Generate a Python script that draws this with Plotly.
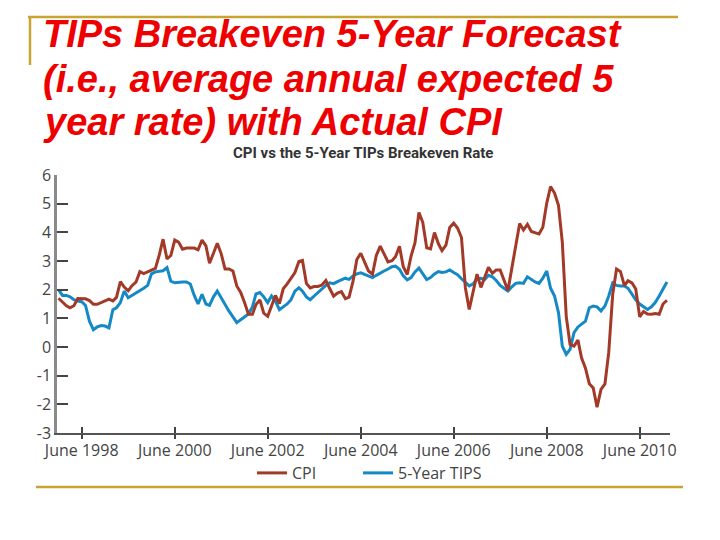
import pandas as pd
import plotly.graph_objects as go

# ---- data (monthly, Dec 1997 .. Jan 2011) ----
months = pd.date_range("1997-12-01", "2011-01-01", freq="MS")

cpi = [1.70,
       1.57, 1.44, 1.37, 1.44, 1.69, 1.68, 1.68, 1.62, 1.49, 1.49, 1.55, 1.61,
       1.67, 1.61, 1.73, 2.28, 2.09, 1.96, 2.14, 2.26, 2.63, 2.56, 2.62, 2.68,
       2.74, 3.22, 3.76, 3.07, 3.19, 3.73, 3.66, 3.41, 3.45, 3.45, 3.45, 3.39,
       3.73, 3.53, 2.92, 3.27, 3.62, 3.25, 2.72, 2.72, 2.65, 2.13, 1.90, 1.55,
       1.14, 1.14, 1.48, 1.64, 1.18, 1.07, 1.46, 1.80, 1.51, 2.03, 2.20, 2.38,
       2.60, 2.98, 3.02, 2.22, 2.06, 2.11, 2.11, 2.16, 2.32, 2.04, 1.77, 1.88,
       1.93, 1.69, 1.74, 2.29, 3.05, 3.27, 2.99, 2.65, 2.54, 3.19, 3.52, 3.26,
       2.97, 3.01, 3.15, 3.51, 2.80, 2.53, 3.17, 3.64, 4.69, 4.35, 3.46, 3.42,
       3.99, 3.60, 3.36, 3.55, 4.17, 4.32, 4.15, 3.82, 2.06, 1.31, 1.97, 2.54,
       2.08, 2.42, 2.78, 2.57, 2.69, 2.69, 2.36, 1.97, 2.76, 3.54, 4.31, 4.08,
       4.28, 4.03, 3.98, 3.94, 4.18, 5.02, 5.60, 5.37, 4.94, 3.66, 1.07, 0.09,
       0.03, 0.24, -0.38, -0.74, -1.28, -1.43, -2.10, -1.48, -1.29, -0.18, 1.84, 2.72,
       2.63, 2.14, 2.31, 2.24, 2.02, 1.05, 1.24, 1.15, 1.14, 1.17, 1.14, 1.50,
       1.63]

tips = [2.00, 1.80, 1.80, 1.75, 1.65, 1.60, 1.58, 1.45, 0.90, 0.60,
        0.70, 0.75, 0.73, 0.67, 1.30, 1.37, 1.55, 1.95, 1.72, 1.80,
        1.86, 1.95, 2.05, 2.15, 2.55, 2.62, 2.65, 2.66, 2.77, 2.30,
        2.24, 2.26, 2.27, 2.27, 2.20, 1.80, 1.50, 1.84, 1.50, 1.45,
        1.75, 1.95, 1.70, 1.45, 1.25, 1.05, 0.85, 0.95, 1.05, 1.15,
        1.40, 1.85, 1.90, 1.75, 1.55, 1.78, 1.60, 1.30, 1.40, 1.50,
        1.65, 1.95, 2.07, 1.95, 1.75, 1.65, 1.78, 1.90, 2.05, 2.15,
        2.24, 2.21, 2.28, 2.35, 2.40, 2.36, 2.48, 2.55, 2.59, 2.53,
        2.48, 2.42, 2.50, 2.59, 2.65, 2.72, 2.80, 2.82, 2.71, 2.48,
        2.34, 2.42, 2.62, 2.75, 2.55, 2.35, 2.42, 2.55, 2.63, 2.60,
        2.62, 2.69, 2.60, 2.52, 2.38, 2.25, 2.13, 2.20, 2.38, 2.40,
        2.36, 2.50, 2.45, 2.32, 2.15, 2.05, 1.95, 2.10, 2.22, 2.24,
        2.22, 2.45, 2.35, 2.27, 2.22, 2.40, 2.65, 2.05, 1.78, 1.20,
        0.03, -0.26, -0.08, 0.50, 0.70, 0.80, 0.90, 1.37, 1.43, 1.40,
        1.26, 1.43, 1.78, 2.24, 2.15, 2.13, 2.13, 2.05, 1.85, 1.65,
        1.50, 1.40, 1.31, 1.40, 1.55, 1.78, 2.05, 2.27]

tick_dates = ["1998-06-01", "2000-06-01", "2002-06-01", "2004-06-01",
              "2006-06-01", "2008-06-01", "2010-06-01"]
tick_labels = ["June 1998", "June 2000", "June 2002", "June 2004",
               "June 2006", "June 2008", "June 2010"]
y_ticks = [-3, -2, -1, 0, 1, 2, 3, 4, 5, 6]
y_tick_labels = ["-3", "-2", "-1", "0", "1", "2", "3", "4", "5", "6"]

x_range = ["1997-11-19", "2011-01-25"]

# ---- styling ----
RED = "#A33A28"
BLUE = "#1589C6"
GOLD = "#C8A430"
TXT = "#444444"
FONT = "Open Sans"

L, R, T, B = 57, 670, 175, 433
W, H = 720, 540


def px(x):
    return (x - L) / (R - L)


def py(y):
    return (B - y) / (B - T)


fig = go.Figure()
fig.add_trace(go.Scatter(x=months, y=tips, name="5-Year TIPS", mode="lines",
                         line=dict(color=BLUE, width=3), legend="legend2"))
fig.add_trace(go.Scatter(x=months, y=cpi, name="CPI", mode="lines",
                         line=dict(color=RED, width=3), legend="legend"))
# invisible trace on overlay axis for the outer half of the crossing ticks
fig.add_trace(go.Scatter(x=[], y=[], xaxis="x2", showlegend=False, hoverinfo="skip"))

fig.update_layout(
    width=W, height=H, autosize=False,
    margin=dict(l=L, r=W - R, t=T, b=H - B, pad=0),
    paper_bgcolor="white", plot_bgcolor="white",
    font=dict(family=FONT, size=16, color=TXT),
    xaxis=dict(type="date", range=x_range, tickmode="array",
               tickvals=tick_dates, ticktext=tick_labels,
               ticks="inside", ticklen=6, tickwidth=1.5, tickcolor="#444",
               showline=True, linecolor="#555", linewidth=2,
               showgrid=False, zeroline=False, ticklabelstandoff=2,
               tickfont=dict(family=FONT, size=16, color=TXT)),
    xaxis2=dict(type="date", range=x_range, overlaying="x", anchor="y",
                side="bottom", tickmode="array", tickvals=tick_dates,
                ticks="outside", ticklen=5, tickwidth=1.5, tickcolor="#444",
                showticklabels=False, showline=False, showgrid=False,
                zeroline=False),
    yaxis=dict(range=[-3, 6], tickmode="array", tickvals=y_ticks,
               ticktext=y_tick_labels,
               ticks="inside", ticklen=11, tickwidth=2, tickcolor="#444",
               showline=True, linecolor="#8a8a8a", linewidth=2.5,
               showgrid=False, zeroline=False, ticklabelstandoff=0,
               tickfont=dict(family=FONT, size=16, color=TXT)),
    legend=dict(orientation="h", x=px(252), xanchor="left",
                y=py(473), yanchor="middle", bgcolor="rgba(0,0,0,0)",
                font=dict(family=FONT, size=16, color=TXT)),
    legend2=dict(orientation="h", x=px(358), xanchor="left",
                 y=py(473), yanchor="middle", bgcolor="rgba(0,0,0,0)",
                 font=dict(family=FONT, size=16, color=TXT)),
    showlegend=True,
)

# title lines
title_lines = ["TIPs Breakeven 5-Year Forecast",
               "(i.e., average annual expected 5",
               "year rate) with Actual CPI"]
title_y = [34, 79, 122]
for line, yy in zip(title_lines, title_y):
    fig.add_annotation(text=line, xref="paper", yref="paper",
                       x=px(42), y=py(yy), xanchor="left", yanchor="middle",
                       showarrow=False, borderpad=0,
                       font=dict(family="Liberation Sans", size=38,
                                 color="#EE0000", weight="bold", style="italic"))

fig.add_annotation(text="CPI vs the 5-Year TIPs Breakeven Rate",
                   xref="paper", yref="paper", x=px(363), y=py(153),
                   xanchor="center", yanchor="middle", showarrow=False,
                   borderpad=0,
                   font=dict(family="Roboto", size=15,
                             color="#333333", weight="bold"))

# decorative gold rules of the slide
fig.add_shape(type="line", xref="paper", yref="paper",
              x0=px(28), x1=px(678), y0=py(17), y1=py(17),
              line=dict(color=GOLD, width=2.5))
fig.add_shape(type="line", xref="paper", yref="paper",
              x0=px(30), x1=px(30), y0=py(17), y1=py(65),
              line=dict(color=GOLD, width=2.5))
fig.add_shape(type="line", xref="paper", yref="paper",
              x0=px(36), x1=px(683), y0=py(487), y1=py(487),
              line=dict(color=GOLD, width=2.5))

fig.write_html("out.html", config={"displayModeBar": False},
               post_script="document.body.style.margin='0px';")
